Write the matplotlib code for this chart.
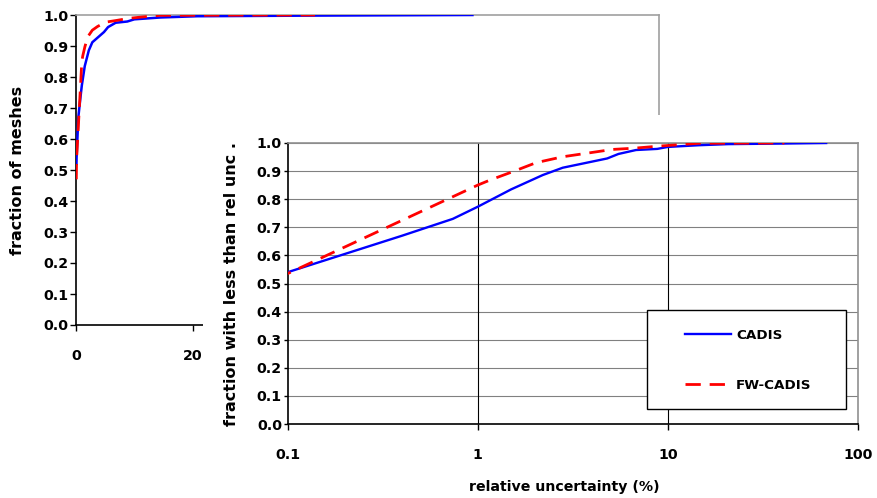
import matplotlib
matplotlib.use("Agg")
import matplotlib.pyplot as plt
from matplotlib.patches import Rectangle

plt.rcParams['font.family'] = ['DejaVu Sans']
plt.rcParams['font.weight'] = 'bold'
plt.rcParams['font.size'] = 10.2

# relative uncertainty (%) vs fraction of meshes below it
cadis_x = [0.08, 0.1, 0.4, 0.74, 1.0, 1.5, 2.2, 2.8, 4.8, 5.5, 6.8, 8.8, 10, 14.5, 20.8, 40, 68]
cadis_y = [0.52, 0.54, 0.67, 0.73, 0.773, 0.835, 0.886, 0.912, 0.945, 0.961, 0.975, 0.979, 0.986, 0.992, 0.996, 0.998, 1.0]
fw_x = [0.05, 0.1, 1.0, 1.16, 1.53, 2.03, 2.8, 3.7, 5.1, 6.8, 9.0, 11, 14.5, 41]
fw_y = [0.47, 0.535, 0.85, 0.868, 0.898, 0.93, 0.951, 0.963, 0.977, 0.982, 0.989, 0.993, 0.999, 1.0]

yticks = [i / 10 for i in range(11)]
ytick_labels = ['%.1f' % v for v in yticks]

W, H = 877, 498
fig = plt.figure(figsize=(W / 100, H / 100), dpi=100)


def fbox(x0, x1, y0, y1):
    # pixel box -> figure fraction
    return [x0 / W, 1 - y1 / H, (x1 - x0) / W, (y1 - y0) / H]


# main chart (linear)
ax = fig.add_axes(fbox(76, 659, 15, 325))
ax.plot(cadis_x, cadis_y, color='#0000FF', lw=1.8, zorder=3)
ax.plot(fw_x, fw_y, color='#FF0000', lw=2.0, dashes=(5.5, 3.2), zorder=3)
ax.set_xlim(0, 100)
ax.set_ylim(0, 1)
ax.set_xticks(range(0, 101, 20))
ax.set_yticks(yticks)
ax.set_yticklabels(ytick_labels)
for s in ['left', 'bottom']:
    ax.spines[s].set_color('black')
    ax.spines[s].set_linewidth(1.2)
for s in ['top', 'right']:
    ax.spines[s].set_color('#A0A0A0')
    ax.spines[s].set_linewidth(1.2)
ax.tick_params(axis='y', direction='out', length=4, width=1, pad=1.5)
ax.tick_params(axis='x', direction='out', length=4, width=1, pad=13)
ax.set_ylabel('fraction of meshes', fontsize=11.5, fontweight='bold')
ax.yaxis.set_label_coords(-0.0875, 0.5)

# white area behind the inset chart
bg = fig.add_axes(fbox(203, 877, 115, 498))
bg.axis('off')
bg.add_patch(Rectangle((0, 0), 1, 1, transform=bg.transAxes, facecolor='white', edgecolor='none'))

# inset chart (log x)
ins = fig.add_axes(fbox(287.5, 858, 143, 424))
for v in yticks[1:]:
    ins.axhline(v, color='#808080', lw=0.8, zorder=1)
for v in [1, 10]:
    ins.axvline(v, color='black', lw=0.8, zorder=1)
ins.plot(cadis_x, cadis_y, color='#0000FF', lw=1.7, label='CADIS', zorder=3)
ins.plot(fw_x, fw_y, color='#FF0000', lw=2.0, dashes=(5.5, 3.2), label='FW-CADIS', zorder=3)
ins.set_xscale('log')
ins.set_xlim(0.1, 100)
ins.set_ylim(0, 1)
ins.set_xticks([0.1, 1, 10, 100])
ins.set_xticklabels(['0.1', '1', '10', '100'])
ins.minorticks_off()
ins.set_yticks(yticks)
ins.set_yticklabels(ytick_labels)
for s in ['left', 'bottom']:
    ins.spines[s].set_color('black')
    ins.spines[s].set_linewidth(1.2)
for s in ['top', 'right']:
    ins.spines[s].set_color('#909090')
    ins.spines[s].set_linewidth(1.2)
ins.tick_params(axis='y', direction='out', length=3, width=1, pad=1)
ins.tick_params(axis='x', direction='out', length=4, width=1, pad=13)
ins.set_ylabel('fraction with less than rel unc .', fontsize=11.5, fontweight='bold')
ins.yaxis.set_label_coords(-0.085, 0.5)
ins.set_xlabel('relative uncertainty (%)', fontsize=10.2, fontweight='bold')
ins.xaxis.set_label_coords(0.486, -0.2)

# legend box
ins.add_patch(Rectangle((647 / W, 1 - 409 / H), 199 / W, 99 / H, transform=fig.transFigure,
                        facecolor='white', edgecolor='black', lw=1, zorder=5, clip_on=False))
leg = ins.legend(loc='upper left', bbox_to_anchor=(678 / W, 1 - 322 / H), bbox_transform=fig.transFigure,
                 frameon=False, borderpad=0, handlelength=3.4, handletextpad=0.4, labelspacing=2.75,
                 fontsize=9.7)
leg.set_zorder(6)

fig.savefig('out.png', dpi=100)
